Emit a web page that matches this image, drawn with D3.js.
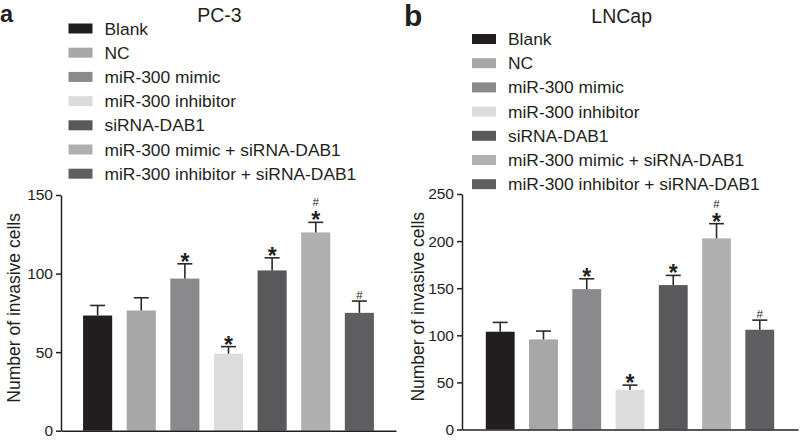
<!DOCTYPE html>
<html><head><meta charset="utf-8">
<script src="https://cdn.jsdelivr.net/npm/d3@7"></script>
<style>
html,body{margin:0;padding:0;background:#fff;}
svg{display:block;font-family:"Liberation Sans",Arial,sans-serif;}
</style></head>
<body>
<svg id="chart" width="800" height="442"></svg>
<script>
const categories = ["Blank","NC","miR-300 mimic","miR-300 inhibitor","siRNA-DAB1","miR-300 mimic + siRNA-DAB1","miR-300 inhibitor + siRNA-DAB1"];
const colors = ["#221e1f","#a7a7a8","#8a8a8c","#dcdcdc","#59595b","#b0b0b1","#5f5f61"];
const pc3Values = [73.3, 76.5, 96.8, 49.0, 102.0, 126.2, 75.0];
const pc3Errors = [6.4, 8.1, 9.4, 4.5, 8.0, 6.4, 7.5];
const lncapValues = [103.8, 95.6, 149.0, 42.1, 153.3, 202.9, 105.9];
const lncapErrors = [9.9, 8.9, 11.0, 5.0, 10.3, 15.6, 10.2];
const marks = ["", "", "*", "*", "*", "*#", "#"];
const pc3Ticks = [0, 50, 100, 150];
const lncapTicks = [0, 50, 100, 150, 200, 250];
const yTitle = "Number of invasive cells";

const svg = d3.select("#chart");
const ink = "#231f20";

function panel(o){
  const g = svg.append("g");
  const x = d3.scaleBand().domain(categories).range([o.x0, o.x1])
    .paddingInner(0.333).paddingOuter(o.po);
  const y = d3.scaleLinear().domain([0, o.ymax]).range([o.yb, o.yt]);

  // panel letter and title
  g.append("text").attr("x", o.lx).attr("y", o.ly).attr("font-size", o.lsize)
    .attr("font-weight", "bold").attr("fill", ink).text(o.letter);
  g.append("text").attr("x", o.tx).attr("y", o.ty).attr("font-size", 19.5)
    .attr("text-anchor", "middle").attr("fill", ink).text(o.title);

  // legend
  const lg = g.append("g");
  categories.forEach((c, i) => {
    const cy = o.legY + i * 24.2;
    lg.append("rect").attr("x", o.legX).attr("y", cy - 5).attr("width", 24).attr("height", 10)
      .attr("fill", colors[i]);
    lg.append("text").attr("x", o.legX + 36).attr("y", cy + 6).attr("font-size", 17.4)
      .attr("fill", ink).text(c);
  });

  // bars
  g.selectAll("rect.bar").data(o.values).enter().append("rect").attr("class", "bar")
    .attr("x", (d, i) => x(categories[i])).attr("width", x.bandwidth())
    .attr("y", d => y(d)).attr("height", d => y(0) - y(d))
    .attr("fill", (d, i) => colors[i]);

  // error bars
  o.values.forEach((v, i) => {
    const cx = x(categories[i]) + x.bandwidth() / 2;
    const top = y(v + o.errors[i]);
    g.append("line").attr("x1", cx).attr("x2", cx).attr("y1", y(v)).attr("y2", top)
      .attr("stroke", "#2a2a2a").attr("stroke-width", 1.6);
    g.append("line").attr("x1", cx - 7.5).attr("x2", cx + 7.5).attr("y1", top).attr("y2", top)
      .attr("stroke", "#2a2a2a").attr("stroke-width", 1.6);
    const m = marks[i];
    if (m.includes("*")) {
      g.append("text").attr("x", cx).attr("y", top + 6).attr("text-anchor", "middle")
        .attr("font-size", 23).attr("font-weight", "bold").attr("fill", ink).text("*");
    }
    if (m.includes("#")) {
      const by = m.includes("*") ? top - 16 : top - 2.5;
      g.append("text").attr("x", cx).attr("y", by).attr("text-anchor", "middle")
        .attr("font-size", 11.5).attr("fill", ink).text("#");
    }
  });

  // axes
  const ya = g.append("g").attr("transform", `translate(${o.x0},0)`)
    .call(d3.axisLeft(y).tickValues(o.ticks).tickSize(5).tickSizeOuter(0).tickPadding(3));
  ya.selectAll("text").attr("font-size", 15.5).attr("fill", ink).attr("font-family", "Liberation Sans, Arial, sans-serif");
  ya.selectAll("line,path").attr("stroke", ink).attr("stroke-width", 1.5);

  const xa = g.append("g").attr("transform", `translate(0,${o.yb})`)
    .call(d3.axisBottom(x).tickSize(0).tickSizeOuter(0).tickFormat(""));
  xa.select("path").attr("stroke", ink).attr("stroke-width", 1.6);

  g.append("text").attr("transform", `translate(${o.x0 - o.tOff},${(o.yb + o.yt) / 2 - 5}) rotate(-90)`)
    .attr("text-anchor", "middle").attr("font-size", 17.5).attr("fill", ink).text(yTitle);
}

panel({letter:"a", lx:0, ly:21.5, lsize:23.5, title:"PC-3", tx:219.5, ty:21.7,
  legX:68.5, legY:28.5, x0:61, x1:396, po:0.506, yb:430.7, yt:195, ymax:150, tOff:41,
  ticks:pc3Ticks, values:pc3Values, errors:pc3Errors});
panel({letter:"b", lx:404, ly:25.5, lsize:30, title:"LNCap", tx:621.7, ty:23.3,
  legX:472, legY:39, x0:462, x1:798, po:0.55, yb:429.5, yt:194, ymax:250, tOff:38,
  ticks:lncapTicks, values:lncapValues, errors:lncapErrors});
</script>
</body></html>
